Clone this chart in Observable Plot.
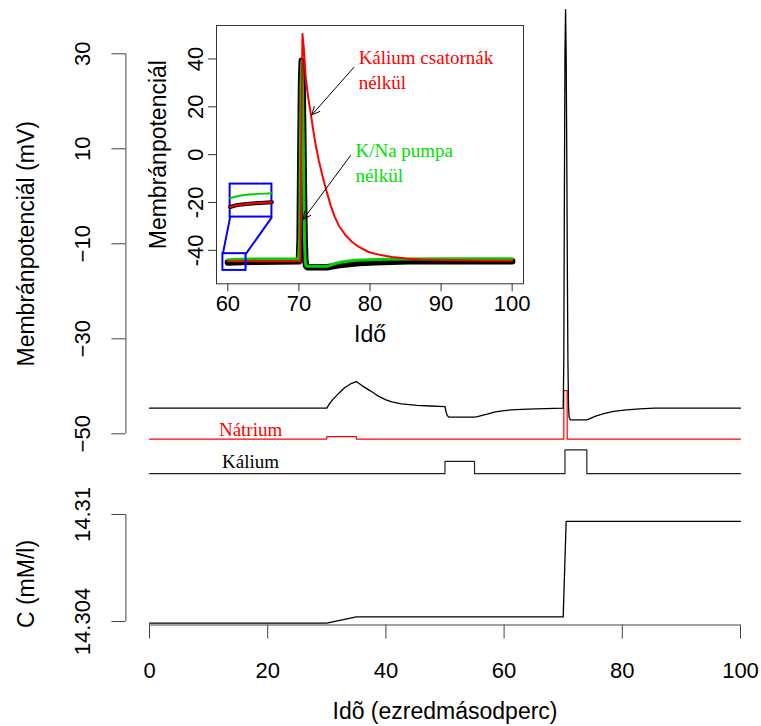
<!DOCTYPE html>
<html><head><meta charset="utf-8">
<script src="https://cdn.jsdelivr.net/npm/d3@7"></script>
<script src="https://cdn.jsdelivr.net/npm/@observablehq/plot@0.6"></script>
<style>
body{margin:0;background:#fff;}
#chart{position:relative;width:761px;height:726px;background:#fff;overflow:hidden;}
#chart svg{position:absolute;left:0;overflow:visible;}
</style></head><body><div id="chart"></div>
<script>
// ---------- tick values ----------
const xTicks = [0, 20, 40, 60, 80, 100];
const vTicks = [30, 10, -10, -30, -50];
const cTicks = [14.304, 14.31];
const insetXTicks = [60, 70, 80, 90, 100];
const insetYTicks = [-40, -20, 0, 20, 40];

// ---------- main panel: membrane potential (mV) ----------
const vTime = [0, 30, 30.5, 31, 32, 33, 34, 35, 36, 37.3, 38.5, 39.9, 41, 42.6, 45.3, 47.5, 50, 50.2, 50.4, 50.7, 55, 55.5, 56.3, 57.3, 58.5, 60, 62, 64, 67, 70, 70.1, 70.2, 70.3, 70.4, 70.5, 70.6, 70.7, 70.8, 70.9, 71.0, 71.2, 74, 74.5, 75.5, 76.7, 78.5, 80.7, 83, 85.4, 90, 100];
const vValue = [-44.6, -44.6, -43.6, -42.8, -41.5, -40.3, -39.5, -39.0, -39.9, -40.9, -41.9, -42.8, -43.3, -43.7, -44.0, -44.15, -44.3, -45.5, -46.2, -46.5, -46.5, -46.4, -46.1, -45.8, -45.4, -45.1, -44.9, -44.8, -44.7, -44.6, -35, 0, 30, 39.3, 30, 10, -15, -35, -44, -46.5, -47.05, -47.05, -46.8, -46.3, -45.8, -45.3, -44.95, -44.75, -44.6, -44.6, -44.6];

// sodium channel trace (drawn in the same mV frame)
const naTime = [0, 30, 30, 35, 35, 70.1, 70.1, 70.67, 70.67, 100];
const naValue = [-51.1, -51.1, -50.6, -50.6, -51.1, -51.1, -40.9, -40.9, -51.1, -51.1];
// potassium channel trace
const kTime = [0, 50, 50, 55, 55, 70.3, 70.3, 74, 74, 100];
const kValue = [-58.4, -58.4, -55.8, -55.8, -58.4, -58.4, -53.4, -53.4, -58.4, -58.4];

const traceLabels = ["Nátrium", "Kálium"];
const traceLabelX = [17.1, 17.1];
const traceLabelY = [-49.1, -55.9];
const traceLabelColor = ["#ff0000", "#000000"];

// ---------- lower panel: concentration C (mM/l) ----------
const cTime = [0, 30, 35, 70, 70.5, 100];
const cValue = [14.30391, 14.30391, 14.30426, 14.30426, 14.30962, 14.30962];

// ---------- inset ----------
const greenTime = [60, 61, 62, 64, 66, 69.95, 70.1, 70.2, 70.3, 70.4, 70.5, 70.6, 70.7, 70.8, 70.9, 71.0, 71.2, 74, 74.5, 75, 76, 77, 78, 80, 82, 85, 90, 100];
const greenValue = [-43.9, -43.8, -43.7, -43.65, -43.6, -43.6, -35, 0, 30, 39, 28, 8, -18, -38, -45, -46.4, -46.7, -46.7, -46.2, -45.6, -44.9, -44.5, -44.2, -43.9, -43.7, -43.6, -43.55, -43.5];
const redTime = [60, 70, 70.2, 70.35, 70.5, 70.7, 70.97, 71.3, 71.67, 72.0, 72.37, 72.8, 73.3, 73.9, 74.47, 75, 75.6, 76.5, 77.5, 78.5, 79.8, 81.5, 83.1, 85, 87, 90, 95, 100];
const redValue = [-44.6, -44.6, -44.6, 10, 50.4, 44, 31.7, 24, 17, 10.5, 3.8, -2.5, -8.7, -15.5, -21.2, -25.7, -29.6, -33.5, -36.5, -38.7, -40.7, -42.0, -42.8, -43.4, -43.8, -44.1, -44.3, -44.4];

const noteText = ["Kálium csatornák\nnélkül", "K/Na pumpa\nnélkül"];
const noteX = [78.4, 77.95];
const noteY = [36.2, -2.8];
const noteColor = ["#ff0000", "#00e000"];

const arrowX1 = [77.73, 77.27];
const arrowY1 = [36.5, -0.36];
const arrowX2 = [71.81, 70.59];
const arrowY2 = [16.6, -27.1];

// zoom boxes (small = source, large = magnified)
const boxX1 = [59.3, 60.32];
const boxX2 = [62.56, 66.2];
const boxY1 = [-48.4, -26.1];
const boxY2 = [-41.4, -12.3];
const linkX1 = [60.32, 66.2];
const linkY1 = [-26.1, -26.1];
const linkX2 = [59.3, 62.56];
const linkY2 = [-41.4, -41.4];
// magnified curves inside the large box
const magTime = [60.32, 61, 62, 63, 64.5, 66.2];
const magGreen = [-18.2, -17.6, -17.0, -16.7, -16.4, -16.1];
const magRed = [-21.9, -21.3, -20.8, -20.5, -20.2, -19.9];

// ---------- build tables ----------
const vData = vTime.map((t, i) => ({t, v: vValue[i]}));
const naData = naTime.map((t, i) => ({t, v: naValue[i]}));
const kData = kTime.map((t, i) => ({t, v: kValue[i]}));
const labelData = traceLabels.map((s, i) => ({s, x: traceLabelX[i], y: traceLabelY[i], c: traceLabelColor[i]}));
const cData = cTime.map((t, i) => ({t, v: cValue[i]}));
const blackInset = vData.filter(d => d.t >= 60);
const greenData = greenTime.map((t, i) => ({t, v: greenValue[i]}));
const redData = redTime.map((t, i) => ({t, v: redValue[i]}));
const notes = noteText.map((s, i) => ({s, x: noteX[i], y: noteY[i], c: noteColor[i]}));
const arrows = arrowX1.map((x1, i) => ({x1, y1: arrowY1[i], x2: arrowX2[i], y2: arrowY2[i]}));
const boxes = boxX1.map((x1, i) => ({x1, x2: boxX2[i], y1: boxY1[i], y2: boxY2[i]}));
const links = linkX1.map((x1, i) => ({x1, y1: linkY1[i], x2: linkX2[i], y2: linkY2[i]}));
const magG = magTime.map((t, i) => ({t, v: magGreen[i]}));
const magR = magTime.map((t, i) => ({t, v: magRed[i]}));

const minusFmt = d => (d < 0 ? "\u2212" + Math.abs(d) : String(d));
const hyphenFmt = d => (d < 0 ? "-" + Math.abs(d) : String(d));
const SANS = "'Liberation Sans', Arial, Helvetica, sans-serif";
const SERIF = "'Liberation Serif', 'Times New Roman', serif";
const AX = "#444";
const AXIS_SHIFT = -23.6; // R places the axis 4% outside the data range
const centered = {textAnchor: "middle", lineAnchor: "middle"};

// ---------- main (upper) panel ----------
const upper = Plot.plot({
  width: 761, height: 490,
  marginLeft: 149, marginRight: 21, marginTop: 53.3, marginBottom: 56.7,
  x: {domain: [0, 100], axis: null},
  y: {domain: [-50, 30]},
  style: {fontFamily: SANS, fontSize: "22px", background: "transparent", color: "#000"},
  marks: [
    Plot.ruleX([xTicks[0]], {y1: d3.min(vTicks), y2: d3.max(vTicks), dx: AXIS_SHIFT, stroke: AX}),
    Plot.axisY({ticks: vTicks, tickSize: 14, dx: AXIS_SHIFT, tickRotate: -90, textAnchor: "middle", lineAnchor: "middle", tickPadding: 29, label: null, stroke: AX, tickFormat: minusFmt}),
    Plot.text(["Membránpotenciál (mV)"], {text: d => d, frameAnchor: "left", dx: -123, rotate: -90, fontSize: 23, ...centered}),
    Plot.line(naData, {x: "t", y: "v", stroke: "#ff0000", strokeWidth: 1.2}),
    Plot.line(kData, {x: "t", y: "v", stroke: "#222", strokeWidth: 1.2}),
    Plot.line(vData, {x: "t", y: "v", stroke: "#000", strokeWidth: 1.3}),
    Plot.text(labelData, {x: "x", y: "y", text: "s", fill: "c", fontFamily: SERIF, fontSize: 19})
  ]
});
upper.style.top = "0px";

// ---------- lower panel ----------
const lower = Plot.plot({
  width: 761, height: 236,
  marginLeft: 149, marginRight: 21, marginTop: 24, marginBottom: 105,
  x: {domain: [0, 100]},
  y: {domain: [14.304, 14.31]},
  style: {fontFamily: SANS, fontSize: "22px", background: "transparent", color: "#000"},
  marks: [
    Plot.ruleX([xTicks[0]], {y1: d3.min(cTicks), y2: d3.max(cTicks), dx: AXIS_SHIFT, stroke: AX}),
    Plot.axisY({ticks: cTicks, tickSize: 14, dx: AXIS_SHIFT, tickRotate: -90, textAnchor: "middle", lineAnchor: "middle", tickPadding: 29, label: null, stroke: AX, tickFormat: d => String(d)}),
    Plot.ruleY([d3.min(cTicks)], {x1: d3.min(xTicks), x2: d3.max(xTicks), dy: 3.5, stroke: AX}),
    Plot.axisX({ticks: xTicks, tickSize: 14, dy: 3.5, tickPadding: 23.5, label: null, stroke: AX}),
    Plot.text(["C (mM/l)"], {text: d => d, frameAnchor: "left", dx: -123, dy: 16, rotate: -90, fontSize: 23, ...centered}),
    Plot.text(["Idõ (ezredmásodperc)"], {text: d => d, frameAnchor: "bottom", dy: 90, fontSize: 23, ...centered}),
    Plot.line(cData, {x: "t", y: "v", stroke: "#000", strokeWidth: 1.3})
  ]
});
lower.style.top = "490px";

// ---------- inset ----------
const inset = Plot.plot({
  width: 540, height: 350,
  marginLeft: 216, marginRight: 17, marginTop: 25, marginBottom: 66.7,
  x: {domain: [58.4, 101.6]},
  y: {domain: [-54, 54]},
  style: {fontFamily: SANS, fontSize: "22px", background: "transparent", color: "#000"},
  marks: [
    Plot.frame({stroke: "#333"}),
    Plot.axisX({ticks: insetXTicks, tickSize: 8, tickPadding: 4, label: null, stroke: "#333"}),
    Plot.axisY({ticks: insetYTicks, tickSize: 8, tickRotate: -90, textAnchor: "middle", lineAnchor: "middle", tickPadding: 13, label: null, stroke: "#333", tickFormat: hyphenFmt}),
    Plot.text(["Membránpotenciál"], {text: d => d, frameAnchor: "left", dx: -58, rotate: -90, fontSize: 23, ...centered}),
    Plot.text(["Idő"], {text: d => d, frameAnchor: "bottom", dy: 51, fontSize: 23, ...centered}),
    Plot.line(blackInset, {x: "t", y: "v", stroke: "#000", strokeWidth: 6.5, strokeLinejoin: "round", strokeLinecap: "round"}),
    Plot.line(greenData, {x: "t", y: "v", stroke: "#00d000", strokeWidth: 3}),
    Plot.line(redData, {x: "t", y: "v", stroke: "#ff0000", strokeWidth: 2}),
    Plot.rect(boxes, {x1: "x1", x2: "x2", y1: "y1", y2: "y2", fill: "none", stroke: "#0000ff", strokeWidth: 2}),
    Plot.link(links, {x1: "x1", y1: "y1", x2: "x2", y2: "y2", stroke: "#0000ff", strokeWidth: 2}),
    Plot.line(magG, {x: "t", y: "v", stroke: "#00d000", strokeWidth: 2}),
    Plot.line(magR, {x: "t", y: "v", stroke: "#000", strokeWidth: 4}),
    Plot.line(magR, {x: "t", y: "v", stroke: "#ff0000", strokeWidth: 2}),
    Plot.arrow(arrows, {x1: "x1", y1: "y1", x2: "x2", y2: "y2", stroke: "#000", strokeWidth: 1, headLength: 13, headAngle: 50}),
    Plot.text(notes, {x: "x", y: "y", text: "s", fill: "c", textAnchor: "start", lineAnchor: "middle", lineHeight: 1.32, fontFamily: SERIF, fontSize: 19})
  ]
});
inset.style.top = "0px";

const chart = document.getElementById("chart");
chart.appendChild(upper);
chart.appendChild(lower);
chart.appendChild(inset);
</script>
</body></html>
